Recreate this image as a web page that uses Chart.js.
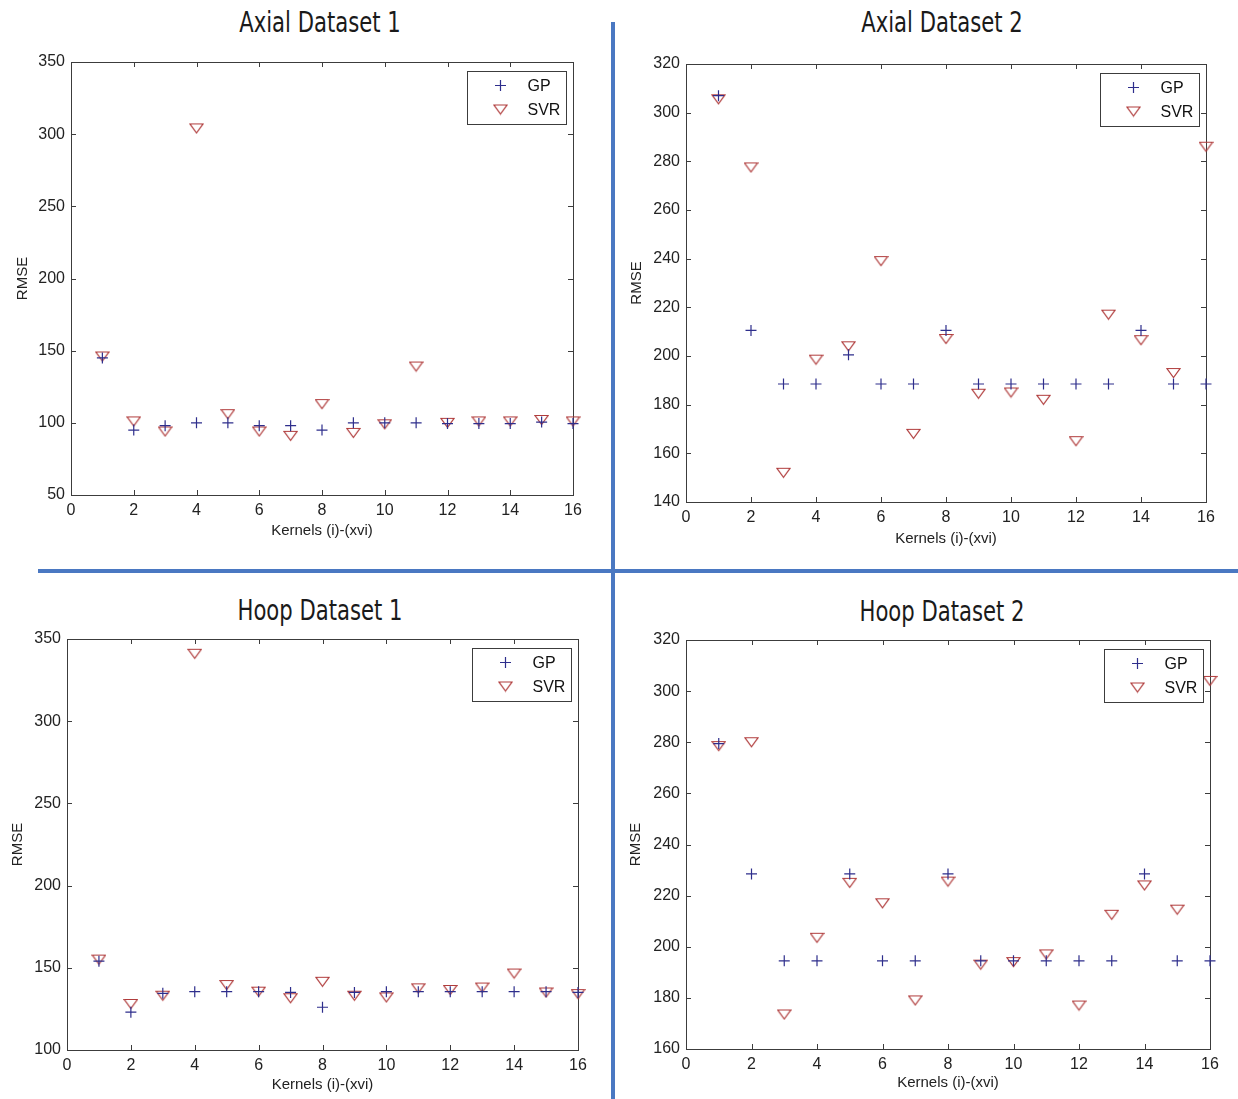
<!DOCTYPE html>
<html>
<head>
<meta charset="utf-8">
<title>GP vs SVR RMSE</title>
<script src="https://cdn.jsdelivr.net/npm/chart.js@4.4.1/dist/chart.umd.min.js"></script>
<style>
  html, body { margin: 0; padding: 0; background: #fff; }
  #page { position: relative; width: 1238px; height: 1099px; overflow: hidden; background: #fff; }
  canvas { position: absolute; }
  .title {
    position: absolute; width: 360px; text-align: center;
    font-family: "Liberation Sans Narrow", "Arial Narrow", "DejaVu Sans Condensed", sans-serif;
    font-size: 28px; line-height: 32px; color: #1a1a1a;
    transform: scaleX(0.84); transform-origin: 50% 50%;
  }
  .divider { position: absolute; background: #4a78c2; }
</style>
</head>
<body>
<div id="page">
  <div class="title" style="left:140px; top:7px;">Axial Dataset 1</div>
  <div class="title" style="left:762px; top:7px;">Axial Dataset 2</div>
  <div class="title" style="left:140px; top:595px;">Hoop Dataset 1</div>
  <div class="title" style="left:762px; top:596px;">Hoop Dataset 2</div>
  <div class="divider" style="left:611px; top:22px; width:4px; height:1077px;"></div>
  <div class="divider" style="left:38px; top:569px; width:1200px; height:4px;"></div>
  <canvas id="c1"></canvas>
  <canvas id="c2"></canvas>
  <canvas id="c3"></canvas>
  <canvas id="c4"></canvas>
</div>
<script>
// ---- data ----
const kernels = [1, 2, 3, 4, 5, 6, 7, 8, 9, 10, 11, 12, 13, 14, 15, 16];

const axial1Gp  = [145, 95, 98, 100, 100, 98, 98, 95, 100, 100, 100, 99.5, 99.5, 99.5, 100.5, 99.5];
const axial1Svr = [146, 101, 94, 304, 106, 94, 91, 113, 93, 99, 139, 100, 101, 101, 102, 101];

const axial2Gp  = [307, 210.5, 188.5, 188.5, 200.5, 188.5, 188.5, 210.5, 188.5, 188.5, 188.5, 188.5, 188.5, 210.5, 188.5, 188.5];
const axial2Svr = [305.5, 277.5, 152, 198.5, 204, 239, 168, 207, 184.5, 185, 182, 165, 217, 206.5, 193, 286];

const hoop1Gp  = [154, 123, 134.5, 135.5, 135.5, 135.5, 135, 126, 135, 135.5, 135.5, 135.5, 135.5, 135.5, 135.5, 135];
const hoop1Svr = [155, 128, 133, 341, 139.5, 135.5, 131.5, 141.5, 133, 132, 137.5, 136.5, 138, 146.5, 135, 134];

const hoop2Gp  = [279.5, 228.5, 194.5, 194.5, 228.5, 194.5, 194.5, 228.5, 194.5, 194.5, 194.5, 194.5, 194.5, 228.5, 194.5, 194.5];
const hoop2Svr = [278.5, 280, 173.5, 203.5, 225, 217, 179, 225.5, 193, 194, 197, 177, 212.5, 224, 214.5, 304];

const seriesNames = ['GP', 'SVR'];
const xLabel = 'Kernels (i)-(xvi)';
const yLabel = 'RMSE';

// ---- styling ----
const GP_COLOR = '#2e2e8c';
const SVR_COLOR = '#b03c3c';
const FRAME = '#3c3c3c';
const TICK_FONT = { family: "'Liberation Sans', Arial, sans-serif", size: 16 };
const LABEL_FONT = { family: "'Liberation Sans', Arial, sans-serif", size: 15 };

// downward open triangle, like matlab 'v'
function makeTriangle(color) {
  const c = document.createElement('canvas');
  c.width = 15; c.height = 12;
  const g = c.getContext('2d');
  g.strokeStyle = color;
  g.lineWidth = 1.2;
  g.beginPath();
  g.moveTo(1, 1.5);
  g.lineTo(14, 1.5);
  g.lineTo(7.5, 10.5);
  g.closePath();
  g.stroke();
  return c;
}
const triangle = makeTriangle(SVR_COLOR);

function drawCross(ctx, x, y, r) {
  ctx.save();
  ctx.strokeStyle = GP_COLOR;
  ctx.lineWidth = 1.2;
  ctx.beginPath();
  ctx.moveTo(x - r, y); ctx.lineTo(x + r, y);
  ctx.moveTo(x, y - r); ctx.lineTo(x, y + r);
  ctx.stroke();
  ctx.restore();
}

// box around the plot with inward ticks on all four sides
const framePlugin = {
  id: 'frame',
  beforeDatasetsDraw(chart) {
    const { ctx, chartArea: a, scales: { x, y } } = chart;
    ctx.save();
    ctx.strokeStyle = FRAME;
    ctx.lineWidth = 1;
    ctx.strokeRect(Math.round(a.left) + 0.5, Math.round(a.top) + 0.5,
      Math.round(a.right - a.left), Math.round(a.bottom - a.top));
    ctx.beginPath();
    x.ticks.forEach(t => {
      const px = Math.round(x.getPixelForValue(t.value)) + 0.5;
      ctx.moveTo(px, a.bottom); ctx.lineTo(px, a.bottom - 5);
      ctx.moveTo(px, a.top); ctx.lineTo(px, a.top + 5);
    });
    y.ticks.forEach(t => {
      const py = Math.round(y.getPixelForValue(t.value)) + 0.5;
      ctx.moveTo(a.left, py); ctx.lineTo(a.left + 5, py);
      ctx.moveTo(a.right, py); ctx.lineTo(a.right - 5, py);
    });
    ctx.stroke();
    ctx.restore();
  }
};

// matlab-style legend box in the top right corner
const legendPlugin = {
  id: 'boxLegend',
  afterDraw(chart) {
    const { ctx, chartArea: a } = chart;
    const w = 99, h = 53;
    const left = Math.round(a.right - 7 - w) + 0.5;
    const top = Math.round(a.top + 9) + 0.5;
    ctx.save();
    ctx.fillStyle = '#fff';
    ctx.fillRect(left, top, w, h);
    ctx.strokeStyle = FRAME;
    ctx.lineWidth = 1;
    ctx.strokeRect(left, top, w, h);
    drawCross(ctx, left + 33, top + 14, 5.5);
    ctx.drawImage(triangle, left + 33 - 7.5, top + 38 - 6);
    ctx.fillStyle = '#111';
    ctx.font = "16px 'Liberation Sans', Arial, sans-serif";
    ctx.textBaseline = 'middle';
    ctx.fillText(seriesNames[0], left + 60, top + 15);
    ctx.fillText(seriesNames[1], left + 60, top + 39);
    ctx.restore();
  }
};

function points(vals) {
  return kernels.map((k, i) => ({ x: k, y: vals[i] }));
}

function buildPlot(id, box, area, yRange, gp, svr) {
  const cv = document.getElementById(id);
  cv.style.left = box.left + 'px';
  cv.style.top = box.top + 'px';
  cv.width = box.w;
  cv.height = box.h;
  cv.style.width = box.w + 'px';
  cv.style.height = box.h + 'px';

  const yw = area.l - box.left;
  const xh = box.top + box.h - area.b;
  const lh = LABEL_FONT.size * 1.2;

  new Chart(cv.getContext('2d'), {
    type: 'scatter',
    data: {
      datasets: [
        {
          label: seriesNames[0],
          data: points(gp),
          pointStyle: 'cross',
          pointRadius: 5.5,
          pointHoverRadius: 5.5,
          pointBorderColor: GP_COLOR,
          pointBorderWidth: 1.2,
          clip: false
        },
        {
          label: seriesNames[1],
          data: points(svr),
          pointStyle: triangle,
          pointRadius: 7,
          pointHoverRadius: 7,
          clip: false
        }
      ]
    },
    options: {
      responsive: false,
      animation: false,
      events: [],
      layout: {
        autoPadding: false,
        padding: { left: 0, top: area.t - box.top, right: box.left + box.w - area.r, bottom: 0 }
      },
      plugins: {
        legend: { display: false },
        tooltip: { enabled: false }
      },
      scales: {
        x: {
          type: 'linear',
          min: 0, max: 16,
          grid: { display: false, drawTicks: false },
          border: { display: false },
          ticks: { stepSize: 2, color: '#222', font: TICK_FONT, padding: 6, maxRotation: 0 },
          title: {
            display: true, text: xLabel, color: '#222', font: LABEL_FONT,
            padding: { top: 0, bottom: box.top + box.h - area.xt - lh / 2 }
          },
          afterFit: s => { s.height = xh; }
        },
        y: {
          type: 'linear',
          min: yRange.min, max: yRange.max,
          grid: { display: false, drawTicks: false },
          border: { display: false },
          ticks: { stepSize: yRange.step, color: '#222', font: TICK_FONT, padding: 6 },
          title: {
            display: true, text: yLabel, color: '#222', font: LABEL_FONT,
            padding: { top: area.yt - box.left - lh / 2, bottom: 0 }
          },
          afterFit: s => { s.width = yw; }
        }
      }
    },
    plugins: [framePlugin, legendPlugin]
  });
}

buildPlot('c1', { left: 0, top: 40, w: 600, h: 510 },
  { l: 71, t: 62, r: 573, b: 495, xt: 531, yt: 23 },
  { min: 50, max: 350, step: 50 }, axial1Gp, axial1Svr);

buildPlot('c2', { left: 616, top: 40, w: 622, h: 520 },
  { l: 686, t: 64, r: 1206, b: 502, xt: 539, yt: 637 },
  { min: 140, max: 320, step: 20 }, axial2Gp, axial2Svr);

buildPlot('c3', { left: 0, top: 620, w: 605, h: 479 },
  { l: 67, t: 639, r: 578, b: 1050, xt: 1085, yt: 18 },
  { min: 100, max: 350, step: 50 }, hoop1Gp, hoop1Svr);

buildPlot('c4', { left: 616, top: 620, w: 622, h: 479 },
  { l: 686, t: 640, r: 1210, b: 1049, xt: 1083, yt: 636 },
  { min: 160, max: 320, step: 20 }, hoop2Gp, hoop2Svr);
</script>
</body>
</html>
